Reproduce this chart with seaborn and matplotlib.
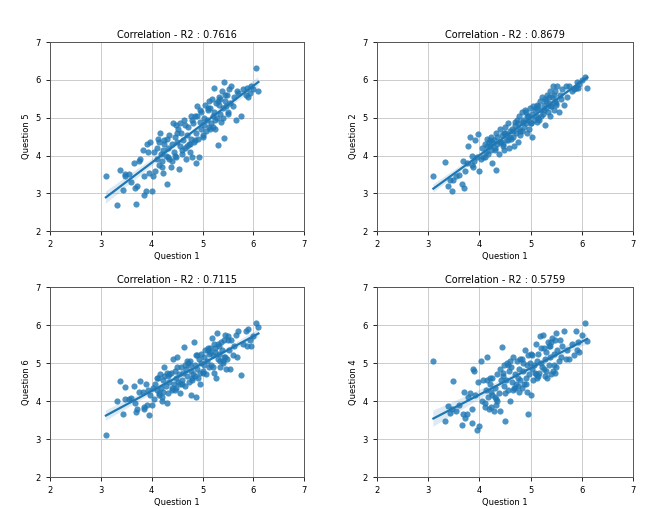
import numpy as np
import pandas as pd
import matplotlib
matplotlib.use("Agg")
import matplotlib.pyplot as plt
import seaborn as sns

# Question 1 scores (shared x axis for every panel)
q1 = [3.10, 3.32, 3.38, 3.43, 3.47, 3.48, 3.55, 3.60, 3.65, 3.68, 3.70, 3.72, 3.78, 3.82, 3.85, 3.88, 3.90, 3.92, 3.95, 3.97, 4.00, 4.02,
      4.05, 4.07, 4.10, 4.12, 4.15, 4.17, 4.18, 4.20, 4.22, 4.23, 4.25, 4.28, 4.30, 4.32, 4.33, 4.35, 4.38, 4.40, 4.42, 4.43,
      4.45, 4.47, 4.48, 4.50, 4.52, 4.53, 4.55, 4.57, 4.60, 4.62, 4.63, 4.65, 4.67, 4.70, 4.72, 4.73, 4.75, 4.77, 4.78, 4.80,
      4.82, 4.83, 4.85, 4.87, 4.88, 4.90, 4.92, 4.93, 4.95, 4.97, 4.98, 5.00, 5.02, 5.03, 5.05, 5.07, 5.08, 5.10, 5.12, 5.13,
      5.15, 5.17, 5.18, 5.20, 5.22, 5.23, 5.25, 5.27, 5.28, 5.30, 5.32, 5.33, 5.35, 5.37, 5.38, 5.40, 5.42, 5.43, 5.45, 5.47,
      5.48, 5.50, 5.52, 5.55, 5.57, 5.60, 5.62, 5.65, 5.68, 5.70,
      5.75, 5.80, 5.85, 5.88, 5.90, 5.93, 5.95, 6.00, 6.05, 6.10,
      4.10, 4.20, 4.30, 4.40, 4.50, 4.60, 4.70, 4.80, 4.90, 5.00, 5.10, 5.20, 5.30, 5.40, 5.50,
      4.15, 4.35, 4.55, 4.75, 4.95, 5.15, 5.35, 5.25, 5.45, 4.85, 4.65, 4.45, 4.25, 3.85, 3.75]

q5 = [3.47, 2.68, 3.62, 3.10, 3.50, 3.45, 3.52, 3.30, 3.80, 3.15, 2.73, 3.20, 3.90, 4.15, 2.95, 3.05, 4.30, 4.10, 3.55, 4.35, 3.05, 3.45,
      4.10, 3.60, 3.90, 4.45, 3.75, 4.60, 4.05, 3.85, 4.15, 3.55, 4.40, 4.00, 3.25, 4.20, 3.95, 4.55, 3.70, 4.30, 4.85, 4.10,
      4.50, 4.80, 3.95, 4.35, 4.70, 3.65, 4.25, 4.60, 4.05, 4.40, 4.95, 4.20, 3.90, 4.55, 4.75, 4.30, 4.10, 5.05, 4.45, 3.95,
      4.85, 4.35, 5.05, 3.80, 4.60, 5.30, 4.45, 3.95, 4.90, 4.70, 5.15, 4.55, 5.00, 4.80, 5.35, 4.65, 4.95, 5.20, 4.75, 5.45,
      5.25, 4.85, 5.50, 5.05, 5.80, 5.15, 4.70, 5.40, 5.00, 4.27, 5.35, 5.55, 5.10, 4.90, 5.70, 5.25, 4.47, 5.95, 5.45, 5.30,
      5.60, 5.15, 5.75, 5.40, 5.85, 5.30, 5.55, 4.95, 5.70, 5.65,
      5.05, 5.75, 5.60, 5.80, 5.55, 5.65, 5.85, 5.75, 6.32, 5.70,
      4.20, 3.70, 4.45, 3.85, 4.60, 4.15, 4.25, 4.95, 5.05, 4.50, 5.25, 4.75, 5.45, 5.00, 5.10,
      4.35, 3.90, 4.85, 4.30, 5.20, 4.70, 5.50, 4.95, 5.60, 4.40, 4.80, 4.00, 4.30, 3.45, 3.85]

q2 = [3.47, 3.83, 3.20, 3.35, 3.05, 3.35, 3.45, 3.48, 3.25, 3.85, 3.15, 3.60, 4.25, 4.50, 4.00, 3.70, 3.85, 4.40, 3.95, 4.57, 3.60, 3.90,
      4.20, 3.95, 4.30, 4.10, 4.45, 4.05, 4.35, 4.25, 4.50, 4.15, 3.80, 4.40, 4.20, 4.60, 3.62, 4.30, 4.05, 4.70, 4.35, 4.55,
      4.30, 4.60, 4.15, 4.75, 4.40, 4.55, 4.85, 4.20, 4.65, 4.45, 4.70, 4.50, 4.25, 4.80, 4.60, 4.95, 4.35, 4.70, 5.05, 4.55,
      4.65, 5.15, 4.90, 4.75, 5.20, 4.85, 4.60, 5.05, 4.95, 4.70, 5.25, 4.85, 5.10, 4.48, 5.30, 4.95, 5.20, 5.05, 5.35, 4.90,
      5.30, 4.95, 5.45, 5.20, 5.55, 5.10, 5.35, 4.80, 5.50, 5.25, 5.60, 5.15, 5.40, 5.05, 5.70, 5.30, 5.55, 5.85, 5.20, 5.45,
      5.70, 5.40, 5.85, 5.15, 5.60, 5.50, 5.75, 5.35, 5.85, 5.55,
      5.85, 5.70, 5.75, 5.80, 5.95, 5.78, 5.90, 6.00, 6.07, 5.80,
      3.95, 4.40, 4.15, 4.35, 4.60, 4.50, 4.90, 4.65, 5.15, 4.85, 5.25, 5.05, 5.45, 5.30, 5.35,
      4.25, 4.50, 4.40, 4.85, 5.05, 5.00, 5.55, 5.20, 5.60, 4.95, 4.65, 4.25, 4.35, 3.75, 3.80]

q6 = [3.10, 4.00, 4.53, 3.67, 4.37, 4.05, 4.05, 4.07, 4.40, 3.95, 3.70, 3.80, 4.52, 4.25, 3.80, 4.45, 3.90, 4.30, 3.62, 4.15, 3.90, 4.35,
      4.05, 4.45, 4.30, 4.60, 4.15, 4.70, 4.35, 4.00, 4.55, 4.25, 4.90, 4.40, 3.95, 4.65, 4.20, 4.50, 4.75, 4.30, 5.10, 4.45,
      4.80, 4.35, 4.60, 5.15, 4.50, 4.70, 4.20, 4.90, 4.55, 4.75, 5.43, 4.40, 4.85, 4.65, 5.00, 4.50, 4.95, 4.15, 4.80, 4.60,
      4.70, 5.55, 4.95, 4.10, 5.20, 4.85, 4.60, 5.10, 4.45, 5.00, 5.25, 4.80, 5.15, 4.95, 5.35, 4.70, 5.05, 5.40, 4.90, 5.25,
      5.40, 4.95, 5.65, 5.20, 4.75, 5.50, 5.30, 4.60, 5.80, 5.10, 5.45, 5.25, 4.90, 5.55, 5.35, 5.00, 5.60, 5.15, 5.75, 4.85,
      5.10, 5.70, 5.35, 4.85, 5.60, 5.20, 5.45, 5.75, 5.15, 5.85,
      4.68, 5.50, 5.85, 5.45, 5.90, 5.60, 5.45, 5.70, 6.05, 5.95,
      4.60, 4.10, 4.75, 4.35, 4.90, 4.45, 5.05, 4.55, 5.20, 4.75, 5.35, 4.90, 5.50, 5.05, 5.60,
      4.20, 4.70, 4.45, 5.05, 4.75, 5.30, 5.05, 5.40, 5.15, 4.65, 4.95, 4.30, 4.65, 3.85, 4.25]

q4 = [5.05, 3.47, 3.88, 3.68, 3.80, 4.52, 3.75, 3.90, 3.36, 3.65, 4.25, 3.55, 4.10, 4.20, 3.42, 4.85, 4.80, 4.15, 3.25, 4.50, 3.35, 5.05,
      4.00, 4.55, 3.95, 4.30, 5.15, 4.10, 3.80, 4.45, 4.25, 3.85, 4.60, 3.75, 4.35, 4.05, 3.90, 4.70, 4.20, 3.75, 4.55, 5.42,
      4.65, 4.40, 4.95, 3.47, 4.55, 5.00, 4.30, 4.80, 4.00, 4.90, 4.50, 5.15, 4.35, 4.70, 4.45, 5.05, 4.60, 4.25, 4.85, 4.55,
      4.35, 5.10, 4.80, 4.45, 5.35, 4.60, 4.95, 4.25, 3.67, 4.70, 5.00, 4.15, 4.85, 5.20, 4.55, 4.95, 4.75, 5.50, 4.60, 5.05,
      5.25, 4.75, 5.70, 5.00, 4.90, 5.75, 5.40, 4.65, 5.10, 5.30, 4.60, 5.55, 4.95, 5.45, 5.15, 4.70, 5.65, 4.80, 5.25, 5.60,
      4.75, 5.80, 5.35, 5.05, 5.60, 5.15, 5.45, 5.85, 5.10, 5.35,
      5.10, 5.50, 5.20, 5.85, 5.35, 5.55, 5.30, 5.75, 6.05, 5.57,
      3.85, 4.60, 4.10, 4.85, 4.20, 5.05, 4.35, 5.10, 4.45, 5.25, 4.70, 5.40, 4.80, 5.55, 4.90,
      4.55, 4.00, 4.95, 4.40, 5.20, 4.65, 5.45, 4.85, 4.95, 5.00, 4.30, 4.75, 4.15, 3.80, 3.65]

df = pd.DataFrame({"Question 1": q1, "Question 5": q5, "Question 2": q2,
                   "Question 6": q6, "Question 4": q4})

panels = ["Question 5", "Question 2", "Question 6", "Question 4"]
r2_labels = ["0.7616", "0.8679", "0.7115", "0.5759"]

# axes boxes in figure fraction (left, bottom, width, height)
boxes = [[0.0755, 0.545, 0.384, 0.372],
         [0.5695, 0.545, 0.387, 0.372],
         [0.0755, 0.061, 0.384, 0.374],
         [0.5695, 0.061, 0.387, 0.374]]

plt.style.use("default")
fig = plt.figure(figsize=(6.62, 5.08), dpi=100)

for col, r2, box in zip(panels, r2_labels, boxes):
    ax = fig.add_axes(box)
    sns.regplot(x="Question 1", y=col, data=df, ax=ax, color="#1f77b4",
                scatter_kws={"s": 20, "alpha": 0.8, "linewidths": 0},
                line_kws={"linewidth": 1.6})
    ax.set_xlim(2, 7)
    ax.set_ylim(2, 7)
    ax.set_xticks(range(2, 8))
    ax.set_yticks(range(2, 8))
    ax.grid(True, color="#cccccc", linewidth=0.7)
    ax.set_axisbelow(True)
    ax.tick_params(labelsize=6, length=3, width=0.6)
    ax.set_xlabel("Question 1", fontsize=6, labelpad=2)
    ax.set_ylabel(col, fontsize=6, labelpad=3)
    ax.set_title("Correlation - R2 : " + r2, fontsize=7, pad=3)
    for s in ax.spines.values():
        s.set_color("#555555")
        s.set_linewidth(0.7)

fig.savefig("out.png", dpi=100)
